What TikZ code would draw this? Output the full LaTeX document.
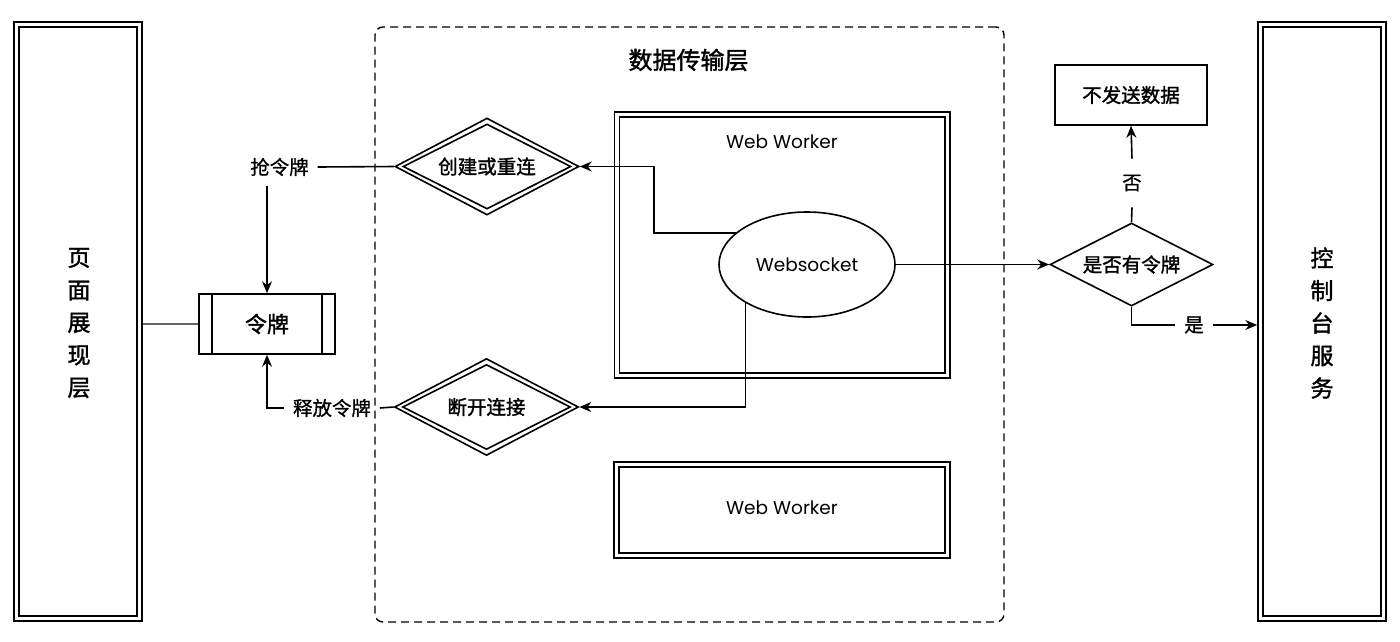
\documentclass[tikz,border=0pt]{standalone}
\usepackage{fontspec}
\setmainfont{Poppins}
\newfontfamily\cjk{Noto Sans CJK SC}[FakeBold=0.8]
\newfontfamily\cjkb{Noto Sans CJK SC}[FakeBold=1.5]
\usetikzlibrary{shapes.geometric,arrows.meta,calc}
\begin{document}
\begin{tikzpicture}[x=1pt,y=-1pt,
  every path/.style={line width=1.6pt},
  box/.style={draw=black,line width=1.6pt,rectangle,inner sep=0pt,minimum width=#1},
  dia/.style={draw=black,line width=1.6pt,diamond,inner sep=0pt},
  lbl/.style={inner xsep=8pt,inner ysep=3pt,font=\cjk\fontsize{19.5}{22}\selectfont},
  btxt/.style={font=\cjkb\fontsize{19.5}{22}\selectfont,inner sep=0pt},
  vtext/.style={align=center,font=\cjkb\fontsize{23}{32.5}\selectfont},
  lat/.style={font=\fontsize{18.5}{22}\selectfont},
  arr/.style={-{Stealth[length=12pt,width=10pt,inset=4pt]}}
]
\useasboundingbox (0,0) rectangle (1400,641);

% dashed layer
\node[draw=black,line width=1.4pt,dash pattern=on 8pt off 5pt,rounded corners=8pt,minimum width=629,minimum height=595,inner sep=0pt] (layer) at (689.5,324.5) {};
\node[font=\cjkb\fontsize{24}{28}\selectfont] (title) at (688.5,60) {数据传输层};

% left box
\node[box=128,minimum height=599] (lbox) at (78.25,321.5) {};
\node[box=118,minimum height=589] (lboxi) at (lbox.center) {};
\node[vtext] (ltext) at (79,323) {页\\面\\展\\现\\层};

% right box
\node[box=128,minimum height=599] (rbox) at (1322,321.5) {};
\node[box=118,minimum height=589] (rboxi) at (rbox.center) {};
\node[vtext] (rtext) at (1322,323) {控\\制\\台\\服\\务};

% token box
\node[box=135.7,minimum height=60,font=\cjkb\fontsize{22}{26}\selectfont] (tok) at (267,324) {令牌};
\draw ($(tok.north west)+(13.4,0)$) -- ($(tok.south west)+(13.4,0)$);
\draw ($(tok.north east)+(-13.4,0)$) -- ($(tok.south east)+(-13.4,0)$);

% web workers
\node[box=335.5,minimum height=266] (ww1) at (782.25,245) {};
\node[box=325.5,minimum height=256] (ww1i) at (ww1.center) {};
\node[lat] (ww1t) at (782,142) {Web Worker};
\node[box=336,minimum height=96] (ww2) at (782,510) {};
\node[box=326,minimum height=86] (ww2i) at (ww2.center) {};
\node[lat] (ww2t) at (782,508) {Web Worker};

% websocket
\node[draw=black,line width=1.6pt,ellipse,minimum width=176,minimum height=105,inner sep=0pt,lat] (ws) at (807,264.5) {Websocket};

% diamonds
\node[dia,minimum width=184,minimum height=97] (cj) at (487,166.5) {};
\node[dia,minimum width=168,minimum height=85] (cji) at (cj.center) {};
\node[btxt] (cjt) at (cj.center) {创建或重连};
\node[dia,minimum width=184,minimum height=97] (dk) at (486.5,407) {};
\node[dia,minimum width=168,minimum height=85] (dki) at (dk.center) {};
\node[btxt] (dkt) at (dk.center) {断开连接};
\node[dia,minimum width=163,minimum height=83] (yn) at (1131.5,264.5) {};
\node[btxt] (ynt) at (yn.center) {是否有令牌};

% no-send box
\node[box=152,minimum height=60,btxt] (ns) at (1131,95) {不发送数据};

% labels
\node[lbl] (ql) at (279.5,167) {抢令牌};
\node[lbl] (sf) at (332,408) {释放令牌};
\node[lbl,minimum height=47,inner sep=0pt] (no) at (1132,183) {否};
\node[lbl,minimum width=36,inner sep=0pt] (yes) at (1194,325) {是};

% connectors
\draw[draw=black!60,line width=2.2pt] (lbox.east |- tok.west) -- (tok.west);
\draw (ql.east) -- (cj.west);
\draw[arr] ($(tok.north |- ql.south)+(0,6)$) -- (tok.north);
\draw (dk.west) -- (sf.east);
\draw[arr] (sf.west) -| (tok.south);
\draw[arr] (ws.156) -- ++(-81.5,0) |- (cj.east);
\draw[arr] (ws.212) |- (dk.east);
\draw[arr] (ws.east) -- (yn.west);
\draw (yn.north) -- (no.south);
\draw[arr] (no.north) -- (ns.south);
\draw (yn.south) |- (yes.west);
\draw[arr] (yes.east) -- (rbox.west |- yes.east);
\end{tikzpicture}
\end{document}
